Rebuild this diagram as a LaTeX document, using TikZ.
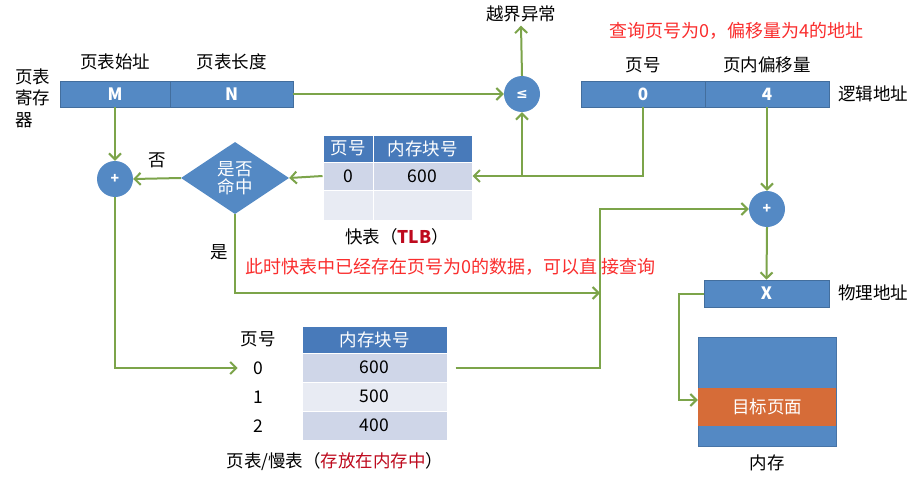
\documentclass[tikz,border=0pt]{standalone}
\usepackage{fontspec}
\setmainfont{Noto Sans CJK SC}
\newfontfamily\symfont{DejaVu Sans}
\usetikzlibrary{arrows.meta,shapes.geometric}
\usepackage{xcolor}

\definecolor{barblue}{RGB}{84,137,196}
\definecolor{hdrblue}{RGB}{72,122,186}
\definecolor{rowdark}{RGB}{207,214,232}
\definecolor{rowlight}{RGB}{232,235,243}
\definecolor{arrgreen}{RGB}{124,164,74}
\definecolor{hintred}{RGB}{250,45,45}
\definecolor{darkred}{RGB}{190,10,30}
\definecolor{pageorange}{RGB}{214,108,56}

\newcommand{\zhsize}{\fontsize{17.5}{21.5}\selectfont}
\newcommand{\hintsize}{\fontsize{18}{22}\selectfont}

\tikzset{
    bar/.style={fill=barblue, draw=barblue!80!black, line width=0.6pt, text=white,
        font=\bfseries\fontsize{17}{19}\selectfont, minimum height=26pt, inner sep=0pt},
    op/.style={circle, fill=barblue, text=white, minimum size=36pt, inner sep=0pt},
    hdr/.style={fill=hdrblue, draw=white, line width=1pt, text=white, font=\zhsize, inner sep=0pt},
    rowd/.style={fill=rowdark, draw=white, line width=1pt, font=\zhsize, inner sep=0pt},
    rowl/.style={fill=rowlight, draw=white, line width=1pt, font=\zhsize, inner sep=0pt},
    lbl/.style={font=\zhsize},
    hint/.style={font=\hintsize, text=hintred},
    arr/.style={draw=arrgreen, line width=2pt, -{Straight Barb[length=6pt,width=12pt]}},
}

\begin{document}
\begin{tikzpicture}[x=1pt, y=-1pt]
    \useasboundingbox[fill=white] (0,0) rectangle (920,487);

    % 页表寄存器
    \node[bar, minimum width=110pt] (regM) at (115,94) {M};
    \node[bar, minimum width=123pt] (regN) at (231.5,94) {N};
    \node[lbl] (regMlbl) at (115,62) {页表始址};
    \node[lbl] (regNlbl) at (231.5,62) {页表长度};
    \node[lbl, anchor=west, align=left, inner sep=0pt] (reglbl) at (15,98) {页表\\寄存\\器};

    % 越界判断
    \node[op, font=\symfont\bfseries\fontsize{14}{16}\selectfont] (cmp) at (522,94) {≤};
    \node[lbl] (exc) at (521,14) {越界异常};

    % 逻辑地址
    \node[bar, minimum width=124pt] (pg) at (643,94) {0};
    \node[bar, minimum width=124pt] (off) at (767,94) {4};
    \node[lbl] (pglbl) at (643,65) {页号};
    \node[lbl] (offlbl) at (767,65) {页内偏移量};
    \node[lbl] (logic) at (873,94) {逻辑地址};
    \node[hint, anchor=west, inner sep=0pt] (query) at (609,31) {查询页号为0，偏移量为4的地址};

    % 快表 (TLB)
    \node[hdr, minimum width=50pt, minimum height=27pt] (tlbh0) at (348,148.5) {页号};
    \node[hdr, minimum width=99pt, minimum height=27pt] (tlbh1) at (422.5,148.5) {内存块号};
    \node[rowd, minimum width=50pt, minimum height=28pt] (tlb00) at (348,176) {0};
    \node[rowd, minimum width=99pt, minimum height=28pt] (tlb01) at (422.5,176) {600};
    \node[rowl, minimum width=50pt, minimum height=30pt] (tlb10) at (348,205) {};
    \node[rowl, minimum width=99pt, minimum height=30pt] (tlb11) at (422.5,205) {};
    \node[lbl] (tlbcap) at (397,237) {快表（\textcolor{darkred}{\bfseries TLB}）};

    % 是否命中
    \node[diamond, fill=barblue, text=white, font=\zhsize, align=center, inner sep=0pt,
        minimum width=108pt, minimum height=72pt] (hit) at (235,178) {是否\\[-4pt]命中};
    \node[op, font=\bfseries\fontsize{14}{16}\selectfont] (plusL) at (115,179) {+};
    \node[lbl] (no) at (157,160) {否};
    \node[lbl] (yes) at (219,252) {是};
    \node[hint, anchor=west, inner sep=0pt] (note) at (245,267) {此时快表中已经存在页号为0的数据，可以直 接查询};

    % 页表/慢表
    \node[hdr, minimum width=145pt, minimum height=27pt] (pth) at (374.5,339.5) {内存块号};
    \node[rowd, minimum width=145pt, minimum height=29pt] (pt0) at (374.5,367.5) {600};
    \node[rowl, minimum width=145pt, minimum height=29pt] (pt1) at (374.5,396.5) {500};
    \node[rowd, minimum width=145pt, minimum height=29pt] (pt2) at (374.5,425.5) {400};
    \node[lbl] (ptn) at (258,339.5) {页号};
    \node[lbl] (pn0) at (258,368) {0};
    \node[lbl] (pn1) at (258,397) {1};
    \node[lbl] (pn2) at (258,426) {2};
    \node[lbl] (ptcap) at (335,462) {页表/慢表（\textcolor{darkred}{存放在内存中}）};

    % 物理地址与内存
    \node[op, font=\bfseries\fontsize{14}{16}\selectfont] (plusR) at (767,209) {+};
    \node[bar, minimum width=125pt, minimum height=27pt] (phys) at (766.5,293.5) {X};
    \node[lbl] (physlbl) at (873,293) {物理地址};
    \node[fill=barblue, draw=barblue!85!black, line width=0.6pt, minimum width=138pt,
        minimum height=109pt, inner sep=0pt] (mem) at (767,391.5) {};
    \node[fill=pageorange, text=white, font=\zhsize, minimum width=138pt,
        minimum height=38pt, inner sep=0pt] (target) at (767,407) {目标页面};
    \node[lbl] (memlbl) at (767,463) {内存};

    % 连线
    \draw[arr] (regM.south) -- (plusL.north);
    \draw[arr] (regN.east) -- (cmp.west);
    \draw[arr] (cmp.north) -- (exc.south);
    \draw[arr] (pg.south) |- (tlb01.east);
    \coordinate (fork) at (cmp.south |- tlb01.east);
    \draw[arr] (fork) -- (cmp.south);
    \draw[arr] (tlb00.west) -- (hit.east);
    \draw[arr] (hit.west) -- (plusL.east);
    \draw[arr, shorten >=12pt] (plusL.south) |- (pn0.west);
    \coordinate (join) at (600,293);
    \draw[arr] (hit.south) |- (join);
    \draw[arr, shorten <=8pt] (pt0.east) -| (join) |- (plusR.west);
    \draw[arr] (off.south) -- (plusR.north);
    \draw[arr] (plusR.south) -- (phys.north);
    \draw[arr] (phys.west) -- ++(-25,0) |- ([yshift=7pt]target.west);
\end{tikzpicture}
\end{document}
